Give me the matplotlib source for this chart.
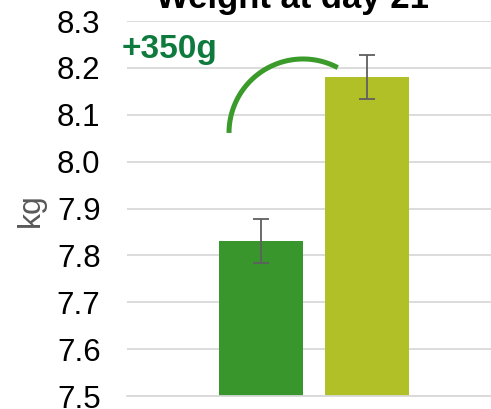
import numpy as np
import matplotlib.pyplot as plt

plt.rcParams['font.family'] = ['Liberation Sans', 'DejaVu Sans']

groups = ['Control', 'Treatment']
weights = [7.83, 8.18]
errors = [0.047, 0.047]
colors = ['#38962c', '#b2c027']
yticks = [7.5, 7.6, 7.7, 7.8, 7.9, 8.0, 8.1, 8.2, 8.3]

fig = plt.figure(figsize=(4.91, 4.09), dpi=100)
ax = fig.add_axes([127 / 491, 1 - 396 / 409, 1 - 127 / 491, (396 - 21) / 409])

x = np.arange(len(groups))
ax.bar(x, [w - 7.5 for w in weights], bottom=7.5, width=84 / 106, color=colors, zorder=2)
ax.errorbar(x, weights, yerr=errors, fmt='none', ecolor='#5f5f5f', elinewidth=1.3,
            capsize=6, capthick=1.3, zorder=3)

ax.set_xlim(-134 / 106, 230 / 106)
ax.set_ylim(7.5, 8.3)
ax.set_yticks(yticks)
ax.set_yticklabels([f'{t:.1f}' for t in yticks])
ax.set_xticks([])
ax.tick_params(axis='y', length=0, pad=19, labelsize=22.5, labelcolor='black')
ax.grid(axis='y', color='#d9d9d9', linewidth=1.3, zorder=0)
ax.set_axisbelow(True)
for s in ['top', 'right', 'left']:
    ax.spines[s].set_visible(False)
ax.spines['bottom'].set_color('#d9d9d9')
ax.spines['bottom'].set_linewidth(1.3)

# arc showing the difference
theta = np.radians(np.linspace(62, 180, 60))
cx, cy = 42 / 106, 8.3 - 112 / 469
rx, ry = 74 / 106, 74 / 469
ax.plot(cx + rx * np.cos(theta), cy + ry * np.sin(theta), color='#3a9b2b',
        linewidth=3.6, solid_capstyle='butt', zorder=4, clip_on=False)

fig.text(122 / 491, 1 - 58 / 409, '+350g', color='#0f7a3d', fontsize=24,
         fontweight='bold', va='baseline', ha='left')
fig.text(31 / 491, 1 - 210 / 409, 'kg', color='#595959', fontsize=23,
         rotation=90, va='center', ha='center')
fig.text(292 / 491, 1 - 8 / 409, 'Weight at day 21', color='black', fontsize=25,
         fontweight='bold', va='baseline', ha='center')

fig.savefig('out.png', dpi=100)
